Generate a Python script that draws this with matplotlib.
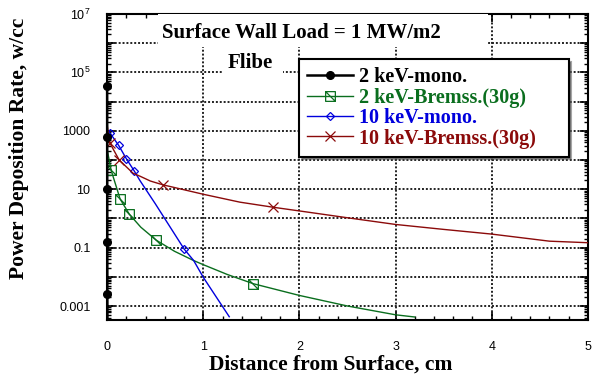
import matplotlib
matplotlib.use("Agg")
import matplotlib.pyplot as plt
from matplotlib.path import Path
from matplotlib.patches import Rectangle
from matplotlib.ticker import FixedLocator, LogLocator, MultipleLocator, NullFormatter

# ---------------- data ----------------
x_2kev_mono = [0.0, 0.0005, 0.001, 0.0015, 0.002, 0.003]
y_2kev_mono = [3.3e4, 600, 10, 0.15, 0.0026, 4e-4]
mark_2kev_mono = [0, 1, 2, 3, 4]

x_2kev_brem = [0.005, 0.04, 0.135, 0.23, 0.35, 0.51, 0.7, 0.9, 1.0, 1.25, 1.52, 2.0, 2.5, 3.0, 3.2]
y_2kev_brem = [190, 46, 4.6, 1.4, 0.5, 0.18, 0.075, 0.036, 0.026, 0.012, 0.0058, 0.0023, 0.001, 5e-4, 4.2e-4]
mark_2kev_brem = [1, 2, 3, 5, 10]

x_10kev_mono = [0.0, 0.03, 0.12, 0.2, 0.28, 0.34, 0.5, 0.8, 0.9, 1.0, 1.27]
y_10kev_mono = [1000, 830, 315, 110, 43, 20, 3.2, 0.09, 0.036, 0.0096, 4.3e-4]
mark_10kev_mono = [1, 2, 3, 4, 7]

x_10kev_brem = [0.0, 0.02, 0.03, 0.066, 0.125, 0.27, 0.34, 0.45, 0.58, 1.0, 1.38, 1.73,
                2.0, 2.5, 3.0, 3.5, 4.0, 4.6, 5.0]
y_10kev_brem = [1600, 490, 380, 225, 100, 35, 28, 19, 14.1, 6.7, 3.6, 2.4,
                1.8, 1.05, 0.62, 0.42, 0.29, 0.166, 0.147]
mark_10kev_brem = [2, 4, 8, 11]

series_labels = ["2 keV-mono.", "2 keV-Bremss.(30g)", "10 keV-mono.", "10 keV-Bremss.(30g)"]
series_colors = ["black", "#0a6e1e", "#0000dd", "#8b0a0a"]

y_ticks = [1e-3, 1e-2, 1e-1, 1, 10, 100, 1e3, 1e4, 1e5, 1e6, 1e7]
y_ticklabels = ["0.001", "", "0.1", "", "10", "", "1000", "", "$10^5$", "", "$10^7$"]
x_ticks = [0, 1, 2, 3, 4, 5]

title_text = "Surface Wall Load = 1 MW/m2"
material_text = "Flibe"

# ---------------- figure ----------------
plt.rcParams["mathtext.default"] = "regular"
serif_bold = dict(family="Liberation Serif", weight="bold")

fig = plt.figure(figsize=(5.92, 3.77), dpi=100)
ax = fig.add_axes([0.181, 0.151, 0.812, 0.812])

# square with a diagonal, like the original marker
sq_diag = Path([(-1, -1), (1, -1), (1, 1), (-1, 1), (-1, -1), (-1, 1), (1, -1)],
               [Path.MOVETO, Path.LINETO, Path.LINETO, Path.LINETO, Path.CLOSEPOLY,
                Path.MOVETO, Path.LINETO])

ax.plot(x_2kev_mono, y_2kev_mono, color=series_colors[0], lw=1.8, marker="o", ms=5.5,
        markevery=mark_2kev_mono, label=series_labels[0], clip_on=False, zorder=6)
ax.plot(x_2kev_brem, y_2kev_brem, color=series_colors[1], lw=1.0, marker=sq_diag, ms=7,
        mfc="none", mew=0.9, markevery=mark_2kev_brem, label=series_labels[1], zorder=5)
ax.plot(x_10kev_mono, y_10kev_mono, color=series_colors[2], lw=1.0, marker="D", ms=4,
        mfc="none", mew=0.9, markevery=mark_10kev_mono, label=series_labels[2], zorder=5)
ax.plot(x_10kev_brem, y_10kev_brem, color=series_colors[3], lw=1.0, marker="x", ms=7,
        mew=0.9, markevery=mark_10kev_brem, label=series_labels[3], zorder=5)

ax.set_yscale("log")
ax.set_xlim(0, 5)
ax.set_ylim(3.3e-4, 1e7)

ax.yaxis.set_major_locator(FixedLocator(y_ticks))
ax.set_yticklabels(y_ticklabels)
ax.yaxis.set_minor_locator(LogLocator(base=10, subs=range(2, 10), numticks=30))
ax.yaxis.set_minor_formatter(NullFormatter())
ax.set_xticks(x_ticks)
ax.xaxis.set_minor_locator(MultipleLocator(0.2))

ax.tick_params(which="both", direction="in", top=True, right=True,
               labelfontfamily="Liberation Sans", labelsize=9)
ax.tick_params(which="major", length=6, width=1.2)
ax.tick_params(which="minor", length=3, width=1.0)
ax.tick_params(axis="x", which="major", pad=15)
ax.tick_params(axis="y", which="major", pad=12)

ax.grid(True, which="major", color="#222222", lw=1.4, ls=(0, (1, 1)))
for s in ax.spines.values():
    s.set_linewidth(1.5)

ax.set_xlabel("Distance from Surface, cm", fontsize=15.5, **serif_bold)
ax.xaxis.set_label_coords(0.464, -0.113)
fig.text(19 / 592, 1 - 148 / 377, "Power Deposition Rate, w/cc", rotation=90,
         ha="center", va="center", fontsize=15.5, **serif_bold)

# white patches behind the two annotations
ax.add_patch(Rectangle((0.106, 0.892), 0.686, 0.108, transform=ax.transAxes,
                       facecolor="white", edgecolor="none", zorder=3))
ax.add_patch(Rectangle((0.241, 0.794), 0.125, 0.1, transform=ax.transAxes,
                       facecolor="white", edgecolor="none", zorder=3))
ax.text(0.403, 0.939, title_text, transform=ax.transAxes, ha="center", va="center",
        fontsize=15, zorder=4, **serif_bold)
ax.text(0.298, 0.84, material_text, transform=ax.transAxes, ha="center", va="center",
        fontsize=15, zorder=4, **serif_bold)

leg = ax.legend(loc="upper left", bbox_to_anchor=(0.399, 0.529, 0.561, 0.323), mode="expand",
                fancybox=False, shadow=True, framealpha=1, edgecolor="black",
                labelcolor="linecolor",
                prop=dict(family="Liberation Serif", weight="bold", size=14.5),
                handlelength=2.3, handletextpad=0.3, labelspacing=0.02,
                borderpad=0.4, borderaxespad=0)
leg.get_frame().set_linewidth(1.5)
leg.set_zorder(7)

fig.savefig("out.png", dpi=100)
